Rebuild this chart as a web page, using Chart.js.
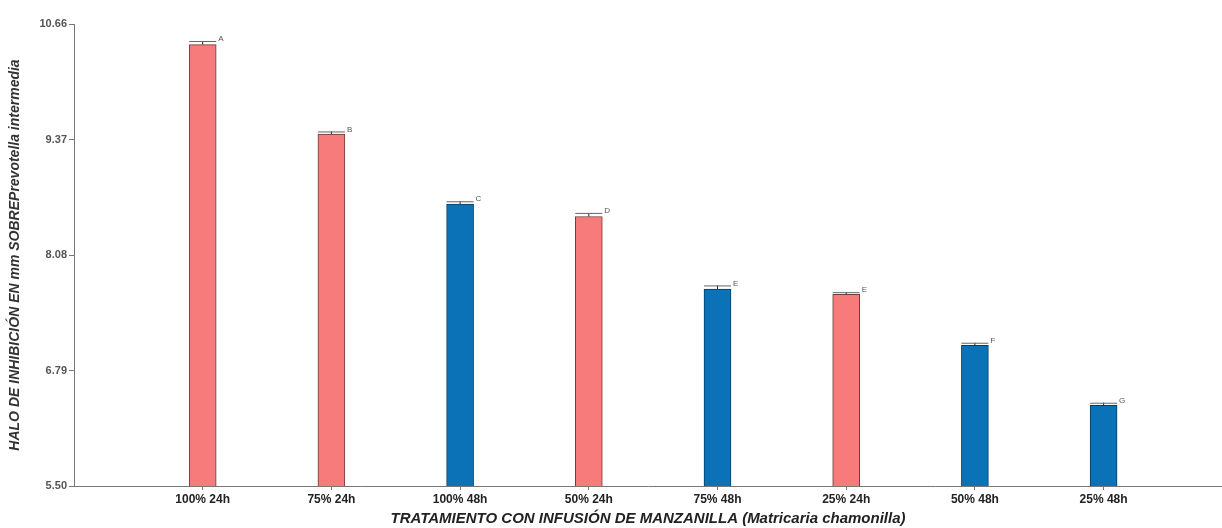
<!DOCTYPE html>
<html>
<head>
<meta charset="utf-8">
<script src="https://cdn.jsdelivr.net/npm/chart.js@4.4.1/dist/chart.umd.min.js"></script>
<style>
  html, body { margin: 0; padding: 0; background: #fff; }
  #wrap { width: 1222px; height: 528px; }
</style>
</head>
<body>
<div id="wrap"><canvas id="chart" width="1222" height="528"></canvas></div>
<script>
// treatments, in the order they appear on the x axis
const categories = ['100% 24h', '75% 24h', '100% 48h', '50% 24h', '75% 48h', '25% 24h', '50% 48h', '25% 48h'];
// mean inhibition halo (mm)
const means = [10.43, 9.43, 8.65, 8.51, 7.70, 7.64, 7.07, 6.40];
// upper error (standard error)
const errors = [0.04, 0.03, 0.03, 0.04, 0.04, 0.025, 0.03, 0.03];
// Tukey grouping letters
const letters = ['A', 'B', 'C', 'D', 'E', 'E', 'F', 'G'];
// exposure time of each treatment
const times = ['24h', '24h', '48h', '24h', '48h', '24h', '48h', '48h'];
const yTicks = [5.50, 6.79, 8.08, 9.37, 10.66];

const colors = { '24h': '#f87b7b', '48h': '#0b72b8' };
const borders = { '24h': '#6e3a3a', '48h': '#073f63' };

Chart.defaults.font.family = '"Liberation Sans", Arial, sans-serif';

// draws the upper error bar and the letter of each bar
const errorBars = {
  id: 'errorBars',
  afterDatasetsDraw(chart) {
    const ctx = chart.ctx;
    const y = chart.scales.y;
    const meta = chart.getDatasetMeta(0);
    ctx.save();
    meta.data.forEach((bar, i) => {
      const half = bar.width / 2;
      const top = y.getPixelForValue(means[i]);
      const cap = y.getPixelForValue(means[i] + errors[i]);
      ctx.strokeStyle = '#222';
      ctx.lineWidth = 1;
      ctx.beginPath();
      ctx.moveTo(bar.x, top);
      ctx.lineTo(bar.x, cap);
      ctx.stroke();
      ctx.strokeStyle = '#666';
      ctx.beginPath();
      ctx.moveTo(bar.x - half, cap + 0.5);
      ctx.lineTo(bar.x + half, cap + 0.5);
      ctx.stroke();
      ctx.fillStyle = '#555';
      ctx.font = '8px "Liberation Sans", Arial, sans-serif';
      ctx.textAlign = 'left';
      ctx.textBaseline = 'bottom';
      ctx.fillText(letters[i], bar.x + half + 2, cap + 2);
    });
    ctx.restore();
  },
};

new Chart(document.getElementById('chart'), {
  type: 'bar',
  data: {
    datasets: [
      {
        data: means.map((v, i) => ({ x: i + 1, y: v })),
        backgroundColor: times.map((t) => colors[t]),
        borderColor: times.map((t) => borders[t]),
        borderWidth: 1,
        barThickness: 27,
      },
    ],
  },
  options: {
    responsive: false,
    animation: false,
    layout: { padding: { top: 24, right: 0, left: 0, bottom: 0 } },
    plugins: {
      legend: { display: false },
      tooltip: { enabled: false },
    },
    scales: {
      x: {
        type: 'linear',
        offset: false,
        min: 0,
        max: 8.92,
        afterBuildTicks: (scale) => {
          scale.ticks = categories.map((c, i) => ({ value: i + 1 }));
        },
        afterFit: (scale) => {
          scale.height = 42;
        },
        ticks: {
          autoSkip: false,
          maxRotation: 0,
          padding: 2,
          color: '#222',
          font: { size: 12, weight: 'bold' },
          callback: (v) => categories[v - 1] || '',
        },
        grid: { display: true, offset: false, drawOnChartArea: false, drawTicks: true, tickLength: 4, color: '#777' },
        border: { display: true, color: '#777', width: 1 },
        title: {
          display: true,
          text: 'TRATAMIENTO CON INFUSIÓN DE MANZANILLA (Matricaria chamonilla)',
          color: '#222',
          font: { size: 15, weight: 'bold', style: 'italic' },
          padding: { top: 0, bottom: 0 },
        },
      },
      y: {
        min: 5.5,
        max: 10.66,
        afterBuildTicks: (scale) => {
          scale.ticks = yTicks.map((v) => ({ value: v }));
        },
        afterFit: (scale) => {
          scale.width = 74;
        },
        ticks: {
          color: '#555',
          padding: 2,
          font: { size: 11, weight: 'bold' },
          callback: (v) => v.toFixed(2),
        },
        grid: { display: true, drawOnChartArea: false, drawTicks: true, tickLength: 5, color: '#777' },
        border: { display: true, color: '#777', width: 1 },
        title: {
          display: true,
          text: 'HALO DE INHIBICIÓN EN mm SOBREPrevotella intermedia',
          color: '#333',
          font: { size: 14, weight: 'bold', style: 'italic' },
          padding: { top: 7, bottom: 0 },
        },
      },
    },
  },
  plugins: [errorBars],
});
</script>
</body>
</html>
